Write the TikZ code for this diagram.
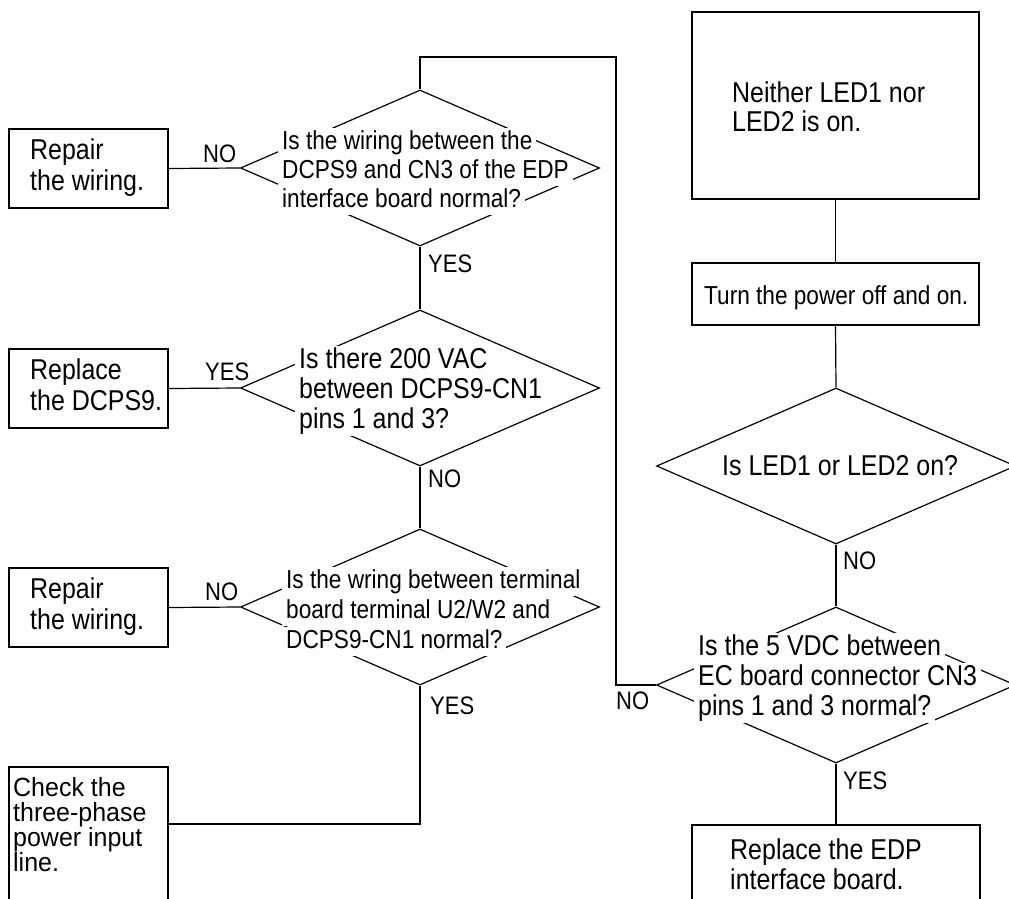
\documentclass[tikz,border=0pt]{standalone}
\usepackage{fontspec}
\setmainfont{Liberation Sans}[FakeStretch=0.87]
\newfontfamily\narrowfont{Liberation Sans}[FakeStretch=0.95]
\usetikzlibrary{shapes.geometric}
\begin{document}
\begin{tikzpicture}[x=1pt,y=-1pt,
  link/.style={line width=1.2pt},
  stepbox/.style={draw, line width=1.2pt, inner sep=0pt, minimum width=159pt},
  query/.style={draw, diamond, line width=1.2pt, inner sep=0pt,
    minimum width=359pt, minimum height=156pt},
  smalltext/.style={anchor=base west, fill=white, inner xsep=4pt, inner ysep=0pt,
    text height=21pt, text depth=8pt, font=\fontsize{26pt}{29pt}\selectfont},
  bigtext/.style={anchor=base west, fill=white, inner xsep=4pt, inner ysep=0pt,
    text height=22pt, text depth=8pt, font=\fontsize{28.7pt}{30pt}\selectfont},
  tighttext/.style={anchor=base west, inner xsep=4pt, inner ysep=0pt,
    text height=18pt, text depth=6pt, font=\narrowfont\fontsize{26.3pt}{25pt}\selectfont},
  answer/.style={anchor=base west, inner sep=0pt, font=\fontsize{25.3pt}{26pt}\selectfont}
]
\useasboundingbox (0,0) rectangle (1009,899);
\clip (0,0) rectangle (1009,899);

% decision shapes
\node[query] (d1) at (420,168) {};
\node[query] (d2) at (420,388) {};
\node[query] (d3) at (420,607) {};
\node[query] (d4) at (836,466) {};
\node[query] (d5) at (836,685) {};

% action boxes, left column
\node[stepbox, minimum height=79pt] (b1) at (88.5,168.5) {};
\node[stepbox, minimum height=79pt] (b2) at (88.5,388.5) {};
\node[stepbox, minimum height=79pt] (b3) at (88.5,607.5) {};
\node[stepbox, minimum height=193pt] (b4) at (88.5,863.5) {};

% action boxes, right column
\node[stepbox, minimum width=287pt, minimum height=187pt] (r1) at (835.5,105.5) {};
\node[stepbox, minimum width=287pt, minimum height=62pt] (r2) at (835.5,294) {};
\node[stepbox, minimum width=288pt, minimum height=135pt] (r3) at (836,892.5) {};

% connectors
\coordinate (top) at (616,57);
\coordinate (low) at (420,824);
\draw[link] (d1.west) -- (b1.east);
\draw[link] (d1.south) -- (d2.north);
\draw[link] (d2.west) -- (b2.east);
\draw[link] (d2.south) -- (d3.north);
\draw[link] (d3.west) -- (b3.east);
\draw[link] (d3.south) -- (low) -- (b4.east |- low);
\draw[link] (d1.north) |- (top) |- (d5.west);
\draw[link] (r1.south) -- (r2.north);
\draw[link] (r2.south) -- (d4.north);
\draw[link] (d4.south) -- (d5.north);
\draw[link] (d5.south) -- (r3.north);

% question texts
\node[smalltext] (q1a) at (278,149) {Is the wiring between the};
\node[smalltext] (q1b) at (278,178) {DCPS9 and CN3 of the EDP};
\node[smalltext] (q1c) at (278,207) {interface board normal?};

\node[bigtext] (q2a) at (295,368) {Is there 200 VAC};
\node[bigtext] (q2b) at (295,398) {between DCPS9-CN1};
\node[bigtext] (q2c) at (295,428) {pins 1 and 3?};

\node[smalltext] (q3a) at (282,588) {Is the wring between terminal};
\node[smalltext] (q3b) at (282,618) {board terminal U2/W2 and};
\node[smalltext] (q3c) at (282,648) {DCPS9-CN1 normal?};

\node[bigtext] (q4a) at (718,475) {Is LED1 or LED2 on?};

\node[bigtext] (q5a) at (694,655) {Is the 5 VDC between};
\node[bigtext] (q5b) at (694,685) {EC board connector CN3};
\node[bigtext] (q5c) at (694,715) {pins 1 and 3 normal?};

% box texts
\node[bigtext] (t1a) at (26,159) {Repair};
\node[bigtext] (t1b) at (26,190) {the wiring.};
\node[bigtext] (t2a) at (26,379) {Replace};
\node[bigtext] (t2b) at (26,410) {the DCPS9.};
\node[bigtext] (t3a) at (26,598) {Repair};
\node[bigtext] (t3b) at (26,629) {the wiring.};
\node[tighttext] (t4a) at (9,796) {Check the};
\node[tighttext] (t4b) at (9,821) {three-phase};
\node[tighttext] (t4c) at (9,846) {power input};
\node[tighttext] (t4d) at (9,871) {line.};
\node[bigtext] (u1a) at (728,102) {Neither LED1 nor};
\node[bigtext] (u1b) at (728,131) {LED2 is on.};
\node[smalltext] (u2a) at (700,304) {Turn the power off and on.};
\node[bigtext] (u3a) at (726,859) {Replace the EDP};
\node[bigtext] (u3b) at (726,889) {interface board.};

% branch answers
\node[answer] (a1) at (203,162) {NO};
\node[answer] (a2) at (428,272) {YES};
\node[answer] (a3) at (205,380) {YES};
\node[answer] (a4) at (428,487) {NO};
\node[answer] (a5) at (205,600) {NO};
\node[answer] (a6) at (430,714) {YES};
\node[answer] (a7) at (843,569) {NO};
\node[answer] (a8) at (616,709) {NO};
\node[answer] (a9) at (843,789) {YES};
\end{tikzpicture}
\end{document}
